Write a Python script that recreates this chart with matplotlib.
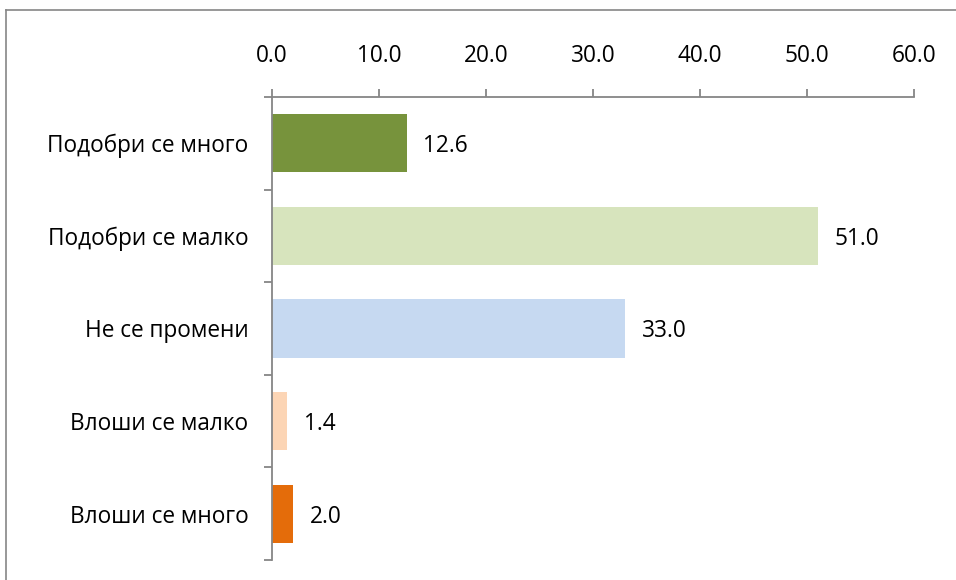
import numpy as np
import matplotlib.pyplot as plt
from matplotlib.lines import Line2D

plt.rcParams['font.family'] = ['Open Sans', 'DejaVu Sans']

categories = ['Подобри се много', 'Подобри се малко', 'Не се промени',
              'Влоши се малко', 'Влоши се много']
values = [12.6, 51.0, 33.0, 1.4, 2.0]
colors = ['#77933C', '#D7E4BD', '#C6D9F1', '#FCD5B5', '#E46C0A']
xticks = [0, 10, 20, 30, 40, 50, 60]

AXIS_GREY = '#868686'
FS = 16.3

fig = plt.figure(figsize=(9.56, 5.8), dpi=100)
ax = fig.add_axes([0.2845, 0.0345, 0.956 - 0.2845, 0.8328 - 0.0345])

ypos = np.arange(len(categories))
bars = ax.barh(ypos, values, height=0.63, color=colors)
labels = ax.bar_label(bars, labels=[f'{v:.1f}' for v in values], padding=12, fontsize=FS)
for t in labels:
    t.set_va('center_baseline')

ax.set_xlim(0, 60)
ax.set_ylim(len(categories) - 0.5, -0.5)

ax.xaxis.tick_top()
ax.set_xticks(xticks)
ax.set_xticklabels([f'{t:.1f}' for t in xticks], fontsize=FS)
ax.tick_params(axis='x', direction='out', length=6, width=1.3, color=AXIS_GREY, pad=15)

ax.set_yticks(ypos)
ax.set_yticklabels(categories, fontsize=FS)
ax.set_yticks(np.arange(-0.5, len(categories)), minor=True)
ax.tick_params(axis='y', which='major', length=0, pad=17)
ax.tick_params(axis='y', which='minor', length=6, width=1.3, color=AXIS_GREY)

for side in ['right', 'bottom']:
    ax.spines[side].set_visible(False)
for side in ['left', 'top']:
    ax.spines[side].set_color(AXIS_GREY)
    ax.spines[side].set_linewidth(1.3)

# outer chart border (left and top edges visible)
fig.add_artist(Line2D([6 / 956, 6 / 956], [0, 1 - 10 / 580], transform=fig.transFigure,
                      color=AXIS_GREY, lw=1.2))
fig.add_artist(Line2D([6 / 956, 1], [1 - 10 / 580, 1 - 10 / 580], transform=fig.transFigure,
                      color=AXIS_GREY, lw=1.2))

fig.savefig('out.png', dpi=100)
